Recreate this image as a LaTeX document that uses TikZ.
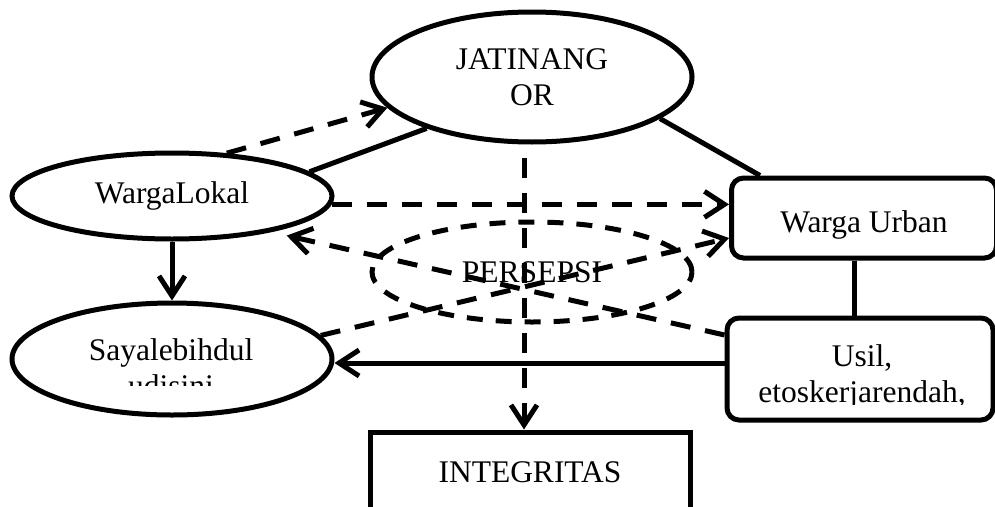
\documentclass[tikz,border=0pt]{standalone}
\usepackage{fontspec}
\setmainfont{Liberation Serif}
\usetikzlibrary{shapes.geometric, arrows.meta}
\begin{document}
\begin{tikzpicture}[x = 1pt, y = -1pt, font = \fontsize{31.5}{36}\selectfont,
	oval/.style = {ellipse, draw, line width = 5pt, inner sep = 0pt},
	kotak/.style = {rectangle, draw, line width = 5pt, inner sep = 0pt},
	garis/.style = {line width = 5pt},
	putus/.style = {garis, dash pattern = on 20pt off 15pt},
	panah/.style = {-{Straight Barb[length = 20pt, width = 26pt]}}]
	\useasboundingbox (0, 0) rectangle (995, 506);
	\clip (0, 0) rectangle (995, 506);
	\node[oval, minimum width = 320pt, minimum height = 130pt, align = center, text depth = -7pt] (jat) at (532, 77) {JATINANG\\OR};
	\node[oval, minimum width = 320pt, minimum height = 86pt] (wl) at (172, 196) {WargaLokal};
	\node[oval, dash pattern = on 16pt off 13pt, minimum width = 320pt, minimum height = 100pt] (per) at (532, 272) {PERSEPSI};
	\node[kotak, rounded corners = 12pt, minimum width = 265pt, minimum height = 80pt, text height = 30pt, text depth = 2pt] (wu) at (864, 218) {Warga Urban};
	\node[kotak, minimum width = 320pt, minimum height = 80pt] (int) at (530, 472) {INTEGRITAS};
	% teks yang terpotong
	\begin{scope}
		\clip (0, 300) rectangle (700, 385) (700, 300) rectangle (995, 404);
		\node[anchor = base, align = center] at (171, 396) {Sayalebihdul\\udisini};
		\node[anchor = base, align = center] at (862, 402) {Usil,\\etoskerjarendah,};
	\end{scope}
	\node[oval, minimum width = 320pt, minimum height = 112pt] (sd) at (172, 359) {};
	\node[kotak, rounded corners = 12pt, minimum width = 266pt, minimum height = 102pt] (us) at (860, 369) {};
	% garis penghubung
	\draw[garis] (wl.10) -- (jat.206);
	\draw[garis] (jat.342) -- ([xshift = 31pt]wu.north west);
	\draw[garis] ([xshift = -10pt]wu.south) -- ([xshift = -10pt]wu.south |- us.north);
	\draw[garis, panah] (wl.south) -- (sd.north);
	\draw[garis, panah] ([yshift = 6pt]us.west) -- ([yshift = 6pt]us.west -| sd.east);
	\draw[putus, panah] (wl.38) -- (jat.192);
	\draw[putus, panah] (wl.-3) -- (wl.-3 -| wu.west);
	\draw[putus, panah] (sd.9) -- ([yshift = -20pt]wu.west);
	\draw[putus, panah, shorten > = 16pt] ([yshift = 34pt]us.west) -- (wl.-20);
	\draw[putus, panah, shorten < = 13pt] ([xshift = -6pt]int.north |- jat.south) -- ([xshift = -6pt]int.north);
\end{tikzpicture}
\end{document}
